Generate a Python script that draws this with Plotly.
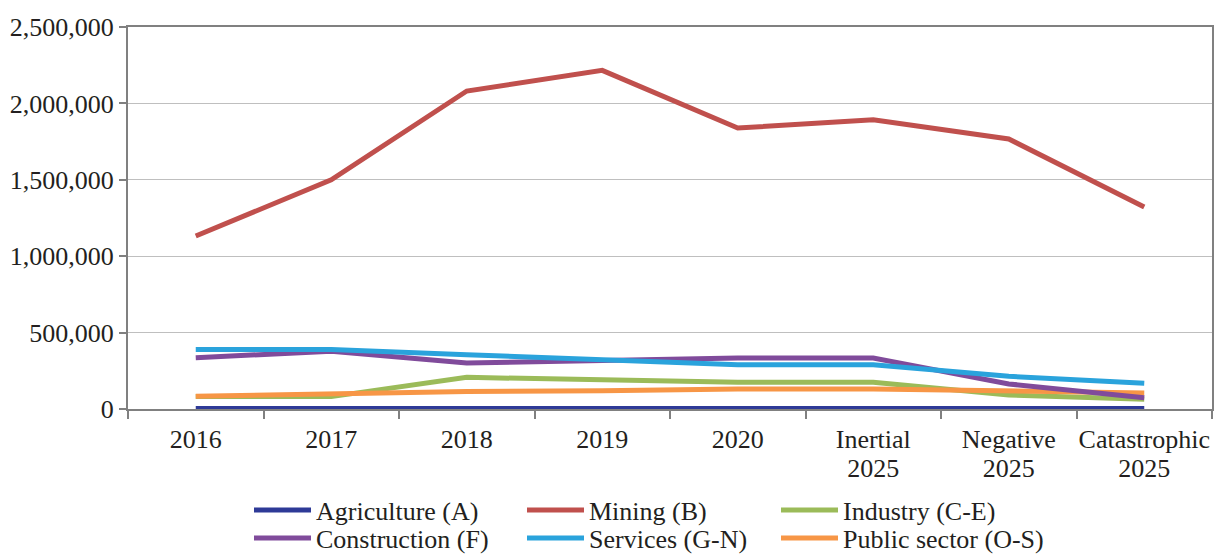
import plotly.graph_objects as go

categories = ["2016", "2017", "2018", "2019", "2020",
              "Inertial<br>2025", "Negative<br>2025", "Catastrophic<br>2025"]

agriculture = [3000, 3000, 3000, 3000, 3000, 3000, 3000, 3000]
mining = [1132000, 1500000, 2081000, 2216000, 1839000, 1893000, 1767000, 1322000]
industry = [81000, 81000, 207000, 194000, 175000, 175000, 92000, 63000]
construction = [336000, 378000, 301000, 319000, 334000, 334000, 164000, 74000]
services = [390000, 390000, 355000, 321000, 290000, 290000, 214000, 168000]
public_sector = [83000, 98000, 114000, 120000, 131000, 131000, 114000, 105000]

series_names = ["Agriculture (A)", "Mining (B)", "Industry (C-E)",
                "Construction (F)", "Services (G-N)", "Public sector (O-S)"]
series_values = [agriculture, mining, industry, construction, services, public_sector]
series_colors = ["#2E3A97", "#C0504D", "#9BBB59", "#804B9B", "#2AA3DC", "#F79646"]

y_ticks = [0, 500000, 1000000, 1500000, 2000000, 2500000]
y_tick_labels = ["0", "500,000", "1,000,000", "1,500,000", "2,000,000", "2,500,000"]

# draw order so that agriculture line sits on top like reference
draw_order = [1, 2, 5, 3, 4, 0]

font_family = "Liberation Serif"
text_color = "#231F20"
fs = 26

# tighter line spacing for the two-line category labels
x_tick_text = ["<br>".join(f"<span style='font-size:{fs}px'>{part}</span>"
                           for part in c.split("<br>")) for c in categories]

# legend grid: 3 columns x 2 rows (left px of each legend box, centre y px of each row)
plot_l, plot_w, plot_b, plot_h = 128, 1084, 409, 382
col_px = [249, 522, 776]
row_px = [510, 538]

fig = go.Figure()
legend_layouts = {}
for i in draw_order:
    lname = "legend" if i == 0 else f"legend{i + 1}"
    fig.add_trace(go.Scatter(
        x=categories, y=series_values[i], name=series_names[i],
        mode="lines", line=dict(color=series_colors[i], width=5),
        legend=lname,
    ))
    col, row = i % 3, i // 3
    legend_layouts[lname] = dict(
        x=(col_px[col] - plot_l) / plot_w, xanchor="left",
        y=(plot_b - row_px[row]) / plot_h, yanchor="middle",
        itemwidth=57, bgcolor="rgba(0,0,0,0)", borderwidth=0,
        font=dict(family=font_family, size=fs, color=text_color),
    )

fig.update_layout(
    width=1220, height=554,
    margin=dict(l=128, r=8, t=27, b=145, autoexpand=False),
    paper_bgcolor="white", plot_bgcolor="white",
    font=dict(family=font_family, size=fs, color=text_color),
    showlegend=True,
    xaxis=dict(
        type="category", range=[-0.5, 7.5], automargin=False,
        tickvals=categories, ticktext=x_tick_text,
        showline=True, linecolor="#808080", linewidth=2, mirror=True,
        ticks="outside", tickson="boundaries", ticklen=8, tickwidth=2,
        tickcolor="#808080", showgrid=False, tickangle=0,
        ticklabelstandoff=11,
        tickfont=dict(family=font_family, size=22, color=text_color),
    ),
    yaxis=dict(
        range=[0, 2500000], tickvals=y_ticks, ticktext=y_tick_labels,
        automargin=False,
        showline=True, linecolor="#808080", linewidth=2, mirror=True,
        ticks="outside", ticklen=7, tickwidth=2, tickcolor="#808080",
        showgrid=True, gridcolor="#BFBFBF", gridwidth=1,
        zeroline=False,
        tickfont=dict(family=font_family, size=fs, color=text_color),
    ),
    **legend_layouts,
)

fig.write_html("out.html")
